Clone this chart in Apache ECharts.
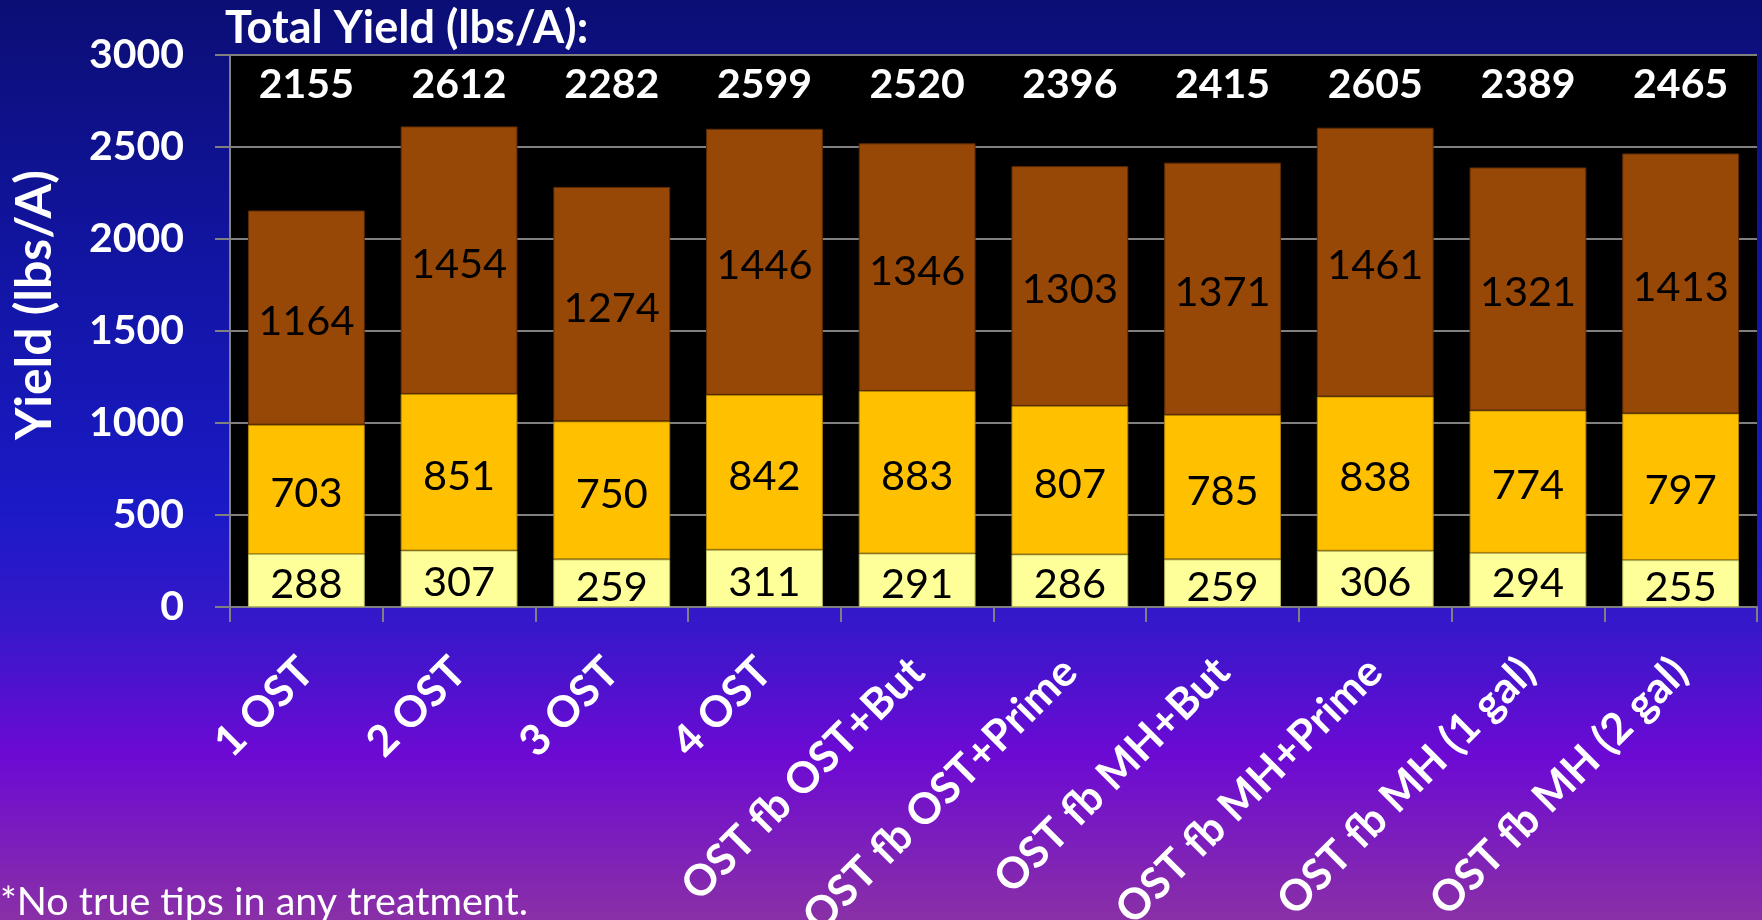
<!DOCTYPE html>
<html>
<head>
<meta charset="utf-8">
<script src="https://cdn.jsdelivr.net/npm/echarts@6/dist/echarts.min.js"></script>
<style>
html,body{margin:0;padding:0;width:1762px;height:920px;overflow:hidden;}
#chart{width:1762px;height:920px;}
</style>
</head>
<body>
<div id="chart"></div>
<script>
const categories = ['1 OST','2 OST','3 OST','4 OST','OST fb OST+But','OST fb OST+Prime','OST fb MH+But','OST fb MH+Prime','OST fb MH (1 gal)','OST fb MH (2 gal)'];
const bottomVals = [288,307,259,311,291,286,259,306,294,255];
const middleVals = [703,851,750,842,883,807,785,838,774,797];
const topVals = [1164,1454,1274,1446,1346,1303,1371,1461,1321,1413];
const totals = [2155,2612,2282,2599,2520,2396,2415,2605,2389,2465];
const yTicks = {min:0, max:3000, interval:500};
const titleText = 'Total Yield (lbs/A):';
const yAxisName = 'Yield (lbs/A)';
const footnote = '*No true tips in any treatment.';

const FONT = 'Lato';
const TOTAL_ROW_Y = 2837;

const chart = echarts.init(document.getElementById('chart'));
const segLabel = {show:true, position:'inside', offset:[0,4], color:'#000', fontFamily:FONT, fontSize:41.5, fontWeight:'normal'};
const gap = '23.5%';
function seg(name, data, color, border){
  return {name, type:'bar', stack:'y', data, barCategoryGap:gap,
    itemStyle:{color, borderColor:border, borderWidth:1},
    label:segLabel, emphasis:{disabled:true}};
}
chart.setOption({
  backgroundColor:{type:'linear',x:0,y:0,x2:0,y2:1,colorStops:[
    {offset:0,color:'#0b0e74'},
    {offset:0.3,color:'#1215a4'},
    {offset:0.55,color:'#1a1ac6'},
    {offset:0.68,color:'#3618ca'},
    {offset:0.82,color:'#6c0ad4'},
    {offset:1,color:'#8a30a6'}]},
  animation:false,
  title:{text:titleText, left:220, top:1, textStyle:{color:'#fff', fontFamily:FONT, fontWeight:'bold', fontSize:45}},
  graphic:[{type:'text', left:0, top:882, style:{text:footnote, fill:'#fff', font:'normal 39.5px Lato'}}],
  grid:{left:230, right:5, top:55, bottom:313, show:true, backgroundColor:'#000', borderWidth:0, outerBoundsMode:'none', containLabel:false},
  xAxis:{type:'category', data:categories,
    axisLine:{lineStyle:{color:'#808080', width:2}},
    axisTick:{show:true, length:15, lineStyle:{color:'#808080', width:2}},
    axisLabel:{color:'#fff', fontFamily:FONT, fontWeight:'bold', fontSize:43, rotate:45, margin:58, interval:0}},
  yAxis:{type:'value', min:yTicks.min, max:yTicks.max, interval:yTicks.interval,
    name:yAxisName, nameLocation:'middle', nameGap:170, nameRotate:90,
    nameTextStyle:{color:'#fff', fontFamily:FONT, fontWeight:'bold', fontSize:50, padding:[0,0,0,52]},
    axisLine:{show:true, lineStyle:{color:'#808080', width:2}},
    axisTick:{show:true, length:15, lineStyle:{color:'#808080', width:2}},
    splitLine:{lineStyle:{color:'#808080', width:2}},
    axisLabel:{color:'#fff', fontFamily:FONT, fontWeight:'bold', fontSize:41, margin:46, formatter:v=>String(v)}},
  series:[
    seg('bottom', bottomVals, '#ffff99', '#b8b860'),
    seg('middle', middleVals, '#ffc000', '#b08400'),
    seg('top', topVals, '#974706', '#5e2c04'),
    {type:'scatter', data:totals.map((t,i)=>[i,TOTAL_ROW_Y,t]), symbolSize:0, silent:true,
      itemStyle:{opacity:1},
      label:{show:true, position:'inside', color:'#ffffff', opacity:1, fontFamily:FONT, fontWeight:'bold', fontSize:41,
        formatter:p=>String(p.value[2])}}
  ]
});
</script>
</body>
</html>
